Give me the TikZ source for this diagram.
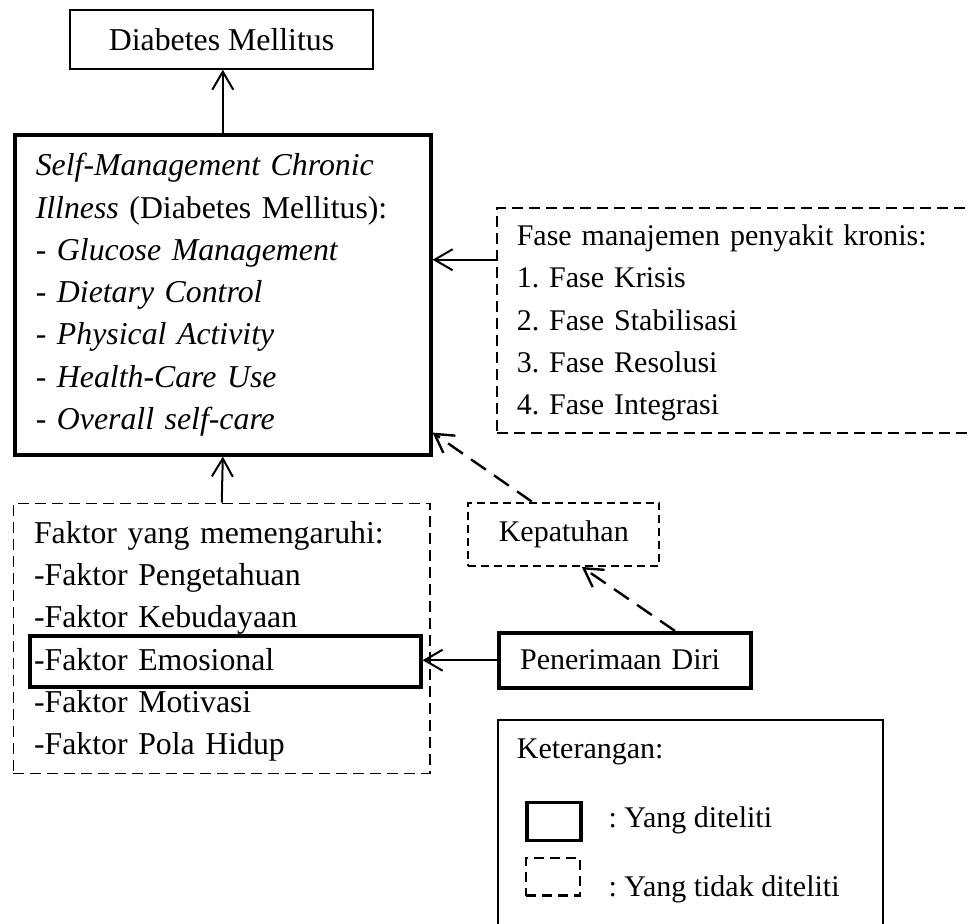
\documentclass[tikz,border=0pt]{standalone}
\usepackage{fontspec}
\setmainfont{Liberation Serif}
\usetikzlibrary{arrows.meta}

\newcommand\leftfont{\fontsize{31.8}{42.3}\selectfont\frenchspacing}
\newcommand\rightfont{\fontsize{30}{42.3}\selectfont\frenchspacing}

\tikzset{
  thinbox/.style={draw, line width=1.4pt, inner sep=0pt},
  thickbox/.style={draw, line width=3.6pt, inner sep=0pt},
  dashbox/.style={draw, line width=1.5pt, dash pattern=on 11pt off 6pt, inner sep=0pt},
  conn/.style={line width=2pt, -{Straight Barb[length=18pt,width=21pt]}},
  dashconn/.style={conn, line width=2.4pt, dash pattern=on 18pt off 10pt},
}

\begin{document}
\begin{tikzpicture}[x=1pt,y=-1pt]

\clip (0,0) rectangle (971,923);

%% left column
\node[thinbox, minimum width=303pt, minimum height=59pt, font=\leftfont] (dm) at (221.5,39.5) {Diabetes Mellitus};

\node[thickbox, anchor=north west, inner xsep=21pt, text width=374pt, minimum height=320pt,
      align=left, font=\leftfont] (smci) at (13,133)
  {\textit{Self-Management Chronic}\\
   \textit{Illness} (Diabetes Mellitus):\\
   - \textit{Glucose Management}\\
   - \textit{Dietary Control}\\
   - \textit{Physical Activity}\\
   - \textit{Health-Care Use}\\
   - \textit{Overall self-care}};

\node[dashbox, anchor=north west, inner xsep=20.6pt, text width=375.4pt, minimum height=270pt,
      align=left, font=\leftfont] (faktor) at (12.7,502.7)
  {\rule{0pt}{28pt}Faktor yang memengaruhi:\\
   -Faktor Pengetahuan\\
   -Faktor Kebudayaan\\
   -Faktor Emosional\\
   -Faktor Motivasi\\
   -Faktor Pola Hidup};
\node[thickbox, anchor=north west, minimum width=390.7pt, minimum height=50.7pt] (emosi) at (28.3,634.3) {};

%% right column
\node[dashbox, anchor=north west, inner xsep=20pt, text width=464pt, minimum height=225pt,
      align=left, font=\rightfont] (fase) at (496,207)
  {\rule{0pt}{26.5pt}Fase manajemen penyakit kronis:\\
   1. Fase Krisis\\
   2. Fase Stabilisasi\\
   3. Fase Resolusi\\
   4. Fase Integrasi};

\node[dashbox, line width=2pt, dash pattern=on 8pt off 5pt, minimum width=191pt, minimum height=63.3pt,
      font=\rightfont] (patuh) at (563.8,534.3) {Kepatuhan};

\node[thickbox, anchor=west, inner xsep=21pt, text width=209.7pt, minimum height=55pt,
      align=left, font=\rightfont] (pener) at (497.3,660.2) {Penerimaan Diri};

%% legend
\node[thinbox, anchor=north west, minimum width=385pt, minimum height=240pt] (ket) at (497.3,719.3) {};
\node[anchor=base west, inner sep=0pt, font=\rightfont] (kettxt) at (516.7,758.3) {Keterangan:};
\node[thickbox, anchor=north west, minimum width=54pt, minimum height=38pt] (ketya) at (525,800.7) {};
\node[dashbox, line width=2.4pt, dash pattern=on 10pt off 6pt, anchor=north west,
      minimum width=54pt, minimum height=37.6pt] (kettidak) at (525,856.7) {};
\node[anchor=base west, inner sep=0pt, font=\rightfont] (yatxt) at (608.3,827.7) {: Yang diteliti};
\node[anchor=base west, inner sep=0pt, font=\rightfont] (tidaktxt) at (608.3,896.7) {: Yang tidak diteliti};

%% connectors
\coordinate (faseout) at ([yshift=60.5pt]fase.west);

\draw[conn] (smci.north) -- (smci.north |- dm.south);
\draw[conn] (faseout) -- (faseout -| smci.east);
\draw[conn] (faktor.north) -- (smci.south);
\draw[conn] (pener.west) -- (pener.west -| emosi.east);

\draw[dashconn] ([xshift=50pt]pener.north) -- ([xshift=18pt]patuh.south);
\draw[dashconn] ([xshift=-32pt]patuh.north) -- ([yshift=24pt]smci.south east);

\end{tikzpicture}
\end{document}
